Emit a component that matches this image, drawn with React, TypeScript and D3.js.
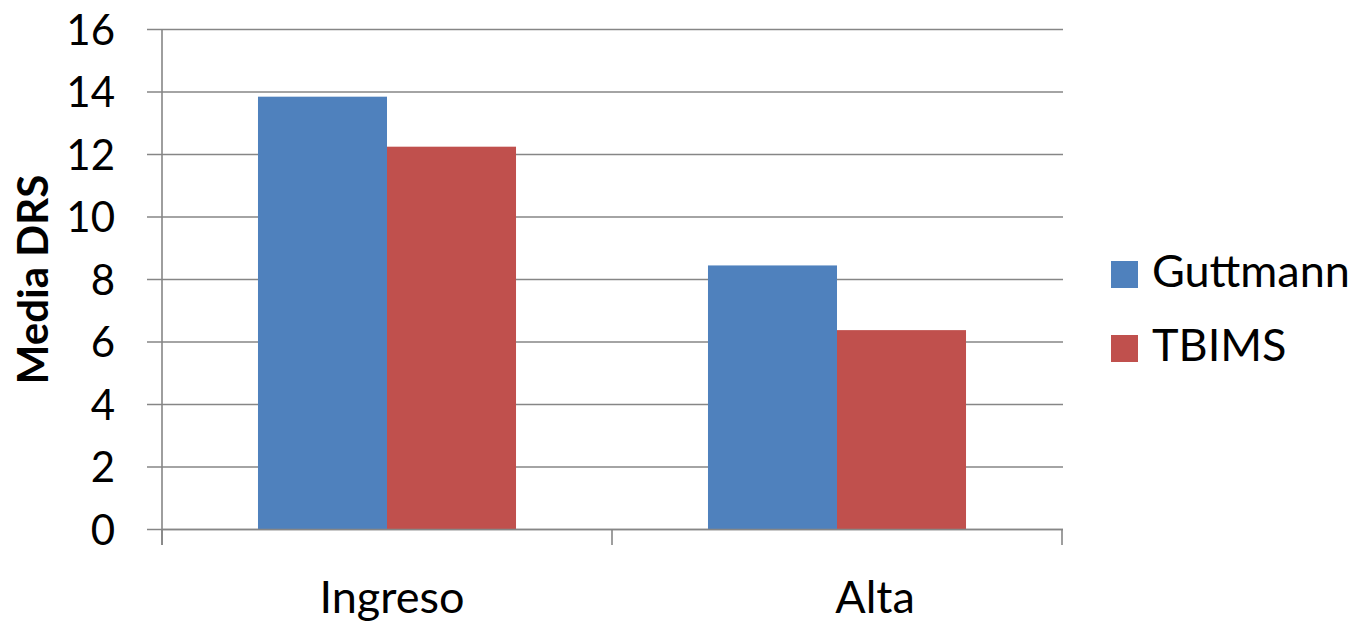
import React from "react";
import * as d3 from "d3";

const categories = ["Ingreso", "Alta"];
const seriesNames = ["Guttmann", "TBIMS"];
const guttmannValues = [13.85, 8.45];
const tbimsValues = [12.25, 6.38];
const yTicks = [0, 2, 4, 6, 8, 10, 12, 14, 16];
const colors = ["#4F81BD", "#C0504D"];

const W = 1352;
const H = 623;
const FONT = "Lato, 'Open Sans', sans-serif";

export default function App() {
  const left = 162, right = 1062, top = 29.5, bottom = 529.5;
  const x = d3.scaleBand<string>().domain(categories).range([left, right]).padding(0);
  const xSub = d3.scaleBand<string>().domain(seriesNames).range([0, x.bandwidth()]).paddingInner(0).paddingOuter(0.744);
  const y = d3.scaleLinear().domain([0, 16]).range([bottom, top]);
  const values = [guttmannValues, tbimsValues];
  const gridColor = "#868686";
  const boundaries = [left, ...categories.map((c) => (x(c) as number) + x.bandwidth())];
  const labelShift = (i: number) => (i === 0 ? 5 : 38);

  return (
    <svg width={W} height={H} style={{ position: "absolute", left: 0, top: 0 }}>
      <rect width={W} height={H} fill="#fff" />
      {yTicks.map((t) => (
        <line key={"g" + t} x1={147} x2={right + 1} y1={y(t)} y2={y(t)} stroke={gridColor} strokeWidth={1.6} />
      ))}
      {categories.map((c, ci) =>
        seriesNames.map((s, si) => (
          <rect
            key={c + s}
            x={(x(c) as number) + (xSub(s) as number)}
            y={y(values[si][ci])}
            width={xSub.bandwidth()}
            height={y(0) - y(values[si][ci])}
            fill={colors[si]}
          />
        ))
      )}
      <line x1={left} x2={left} y1={top} y2={545} stroke={gridColor} strokeWidth={1.6} />
      <line x1={left} x2={right + 1} y1={y(0)} y2={y(0)} stroke={gridColor} strokeWidth={1.6} />
      {boundaries.map((b, i) => (
        <line key={"b" + i} x1={b} x2={b} y1={y(0)} y2={545} stroke={gridColor} strokeWidth={1.6} />
      ))}
      {yTicks.map((t) => (
        <text key={"t" + t} x={115} y={y(t)} dy="0.36em" textAnchor="end" fontFamily={FONT} fontSize={42} fill="#000">
          {t}
        </text>
      ))}
      {categories.map((c, i) => (
        <text key={"c" + c} x={(x(c) as number) + x.bandwidth() / 2 + labelShift(i)} y={613} textAnchor="middle" fontFamily={FONT} fontSize={45} fill="#000">
          {c}
        </text>
      ))}
      <text transform={`translate(48,${(top + bottom) / 2}) rotate(-90)`} textAnchor="middle" fontFamily={FONT} fontSize={42} fontWeight="bold" fill="#000">
        Media DRS
      </text>
      {seriesNames.map((s, i) => (
        <g key={"l" + s} transform={`translate(1111,${261 + i * 74})`}>
          <rect width={27} height={27} fill={colors[i]} />
          <text x={41} y={26} fontFamily={FONT} fontSize={45} fill="#000">
            {s}
          </text>
        </g>
      ))}
    </svg>
  );
}
